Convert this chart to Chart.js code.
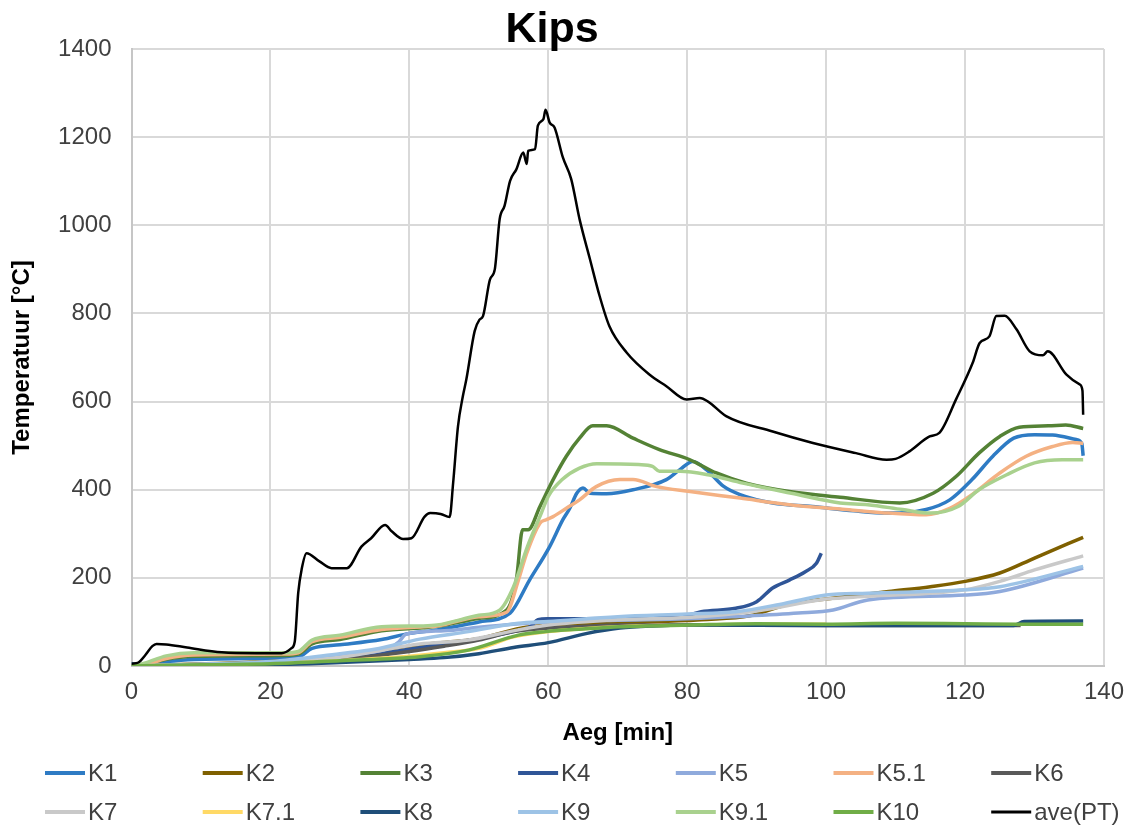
<!DOCTYPE html>
<html>
<head>
<meta charset="utf-8">
<title>Kips</title>
<script src="https://cdn.jsdelivr.net/npm/chart.js@4.4.1/dist/chart.umd.min.js"></script>
<style>
  html, body { margin: 0; padding: 0; background: #fff; }
  #wrap { width: 1141px; height: 829px; position: relative; }
</style>
</head>
<body>
<div id="wrap"><canvas id="kipsChart"></canvas></div>
<script>
// series as [time (min), temperature (°C)] pairs
const K1 = [[0,5],[2,3],[5,10],[9,15],[22,18],[24,20],[26,40],[30,48],[36,60],[40,74],[44,82],[50,100],[54.5,120],[57.3,195],[60.2,271],[62.1,332],[63.1,358],[64.1,392],[65,404],[66,392],[68.4,391],[72.2,400],[77,423],[78.9,445],[80.8,464],[82.8,445],[85.2,408],[87.6,389],[92.3,370],[98,362],[104,352],[108.7,347],[110.6,347],[114.4,355],[117.8,377],[121,423],[124,476],[127,517],[130,525],[132.6,524],[136,514],[136.8,505],[137,477]];
const K2 = [[0,0],[10,5],[20,10],[30,22],[40,45],[46,55],[50,62],[56,86],[60,93],[70,98],[80,103],[82,105],[89,114],[95,142],[100,152],[109,169],[115,180],[120,192],[125,211],[130,245],[137,292]];
const K3 = [[0,0],[2,3],[5,15],[9,22],[22,24],[24,27],[26,50],[30,60],[36,80],[42,87],[44,90],[50,108],[54,127],[55.4,195],[56.3,309],[57.1,309],[58.8,362],[60.7,423],[62.6,476],[64.5,517],[66.4,545],[68.4,545],[72.2,517],[76,491],[80.4,468],[84.2,438],[88.5,415],[94.7,396],[102,383],[110.6,370],[115.4,392],[118.7,430],[122,483],[125,521],[127.8,542],[132,545],[134.5,547],[137,539]];
const K4 = [[0,0],[10,3],[20,6],[30,16],[40,38],[45,50],[50,62],[55,78],[57.5,90],[58.5,105],[60,107],[70,108],[80,115],[82,123],[87,131],[90,146],[92.3,177],[94.7,195],[97,214],[98.6,233],[99.3,256]];
const K5 = [[0,0],[10,3],[20,8],[30,25],[37,40],[38.5,55],[39.5,72],[45,80],[50,88],[55,95],[60,100],[70,104],[80,107],[87,112],[96,120],[101,127],[106,150],[120,161],[125,169],[137,222]];
const K5_1 = [[0,0],[2,3],[5,17],[9,25],[22,27],[24,30],[26,55],[30,65],[36,83],[42,89],[44,91],[50,112],[54,122],[55.7,195],[56.9,256],[58.8,324],[59.7,332],[60.7,339],[62.6,358],[64.5,377],[66.9,407],[70.3,423],[72.2,423],[75.6,407],[80.4,396],[87.6,381],[94.7,366],[102,356],[108,348],[114.4,343],[117.8,358],[121,389],[125,438],[128.8,476],[132.6,498],[135.5,507],[137,505]];
const K6 = [[0,0],[10,2],[20,5],[30,15],[40,33],[45,45],[50,59],[55,78],[60,86],[65,90],[70,93],[80,93],[100,92],[128,92]];
const K7 = [[0,0],[10,4],[20,8],[30,20],[41.5,50],[48.5,59],[55.7,82],[60,93],[70,105],[80,110],[90,125],[100,152],[106,158],[120,173],[125,192],[130,218],[137,250]];
const K7_1 = [[0,0],[10,3],[20,5],[30,12],[40,22],[45,30],[50,40],[55,66],[60,78],[70,89],[80,93],[100,95]];
const K8 = [[0,0],[10,2],[20,3],[30,8],[40,15],[45,19],[50,28],[55,42],[60,53],[65.6,74],[70.3,86],[75,91],[80,93],[100,92],[127,92],[128.5,101],[137,102]];
const K9 = [[0,0],[10,4],[20,10],[30,28],[35,38],[41.5,61],[48.5,78],[55.7,97],[60,101],[70,112],[80,118],[87,123],[94,142],[100,161],[106,165],[120,173],[125,180],[137,226]];
const K9_1 = [[0,0],[2,7],[5,23],[9,30],[22,30],[24,33],[26,59],[30,70],[36,89],[42,91],[44,93],[50,115],[53,127],[55,180],[57,271],[59,347],[60,385],[62,423],[64.5,449],[67,459],[73,457],[75,453],[76,442],[79,442],[83,434],[88,415],[95,392],[102,370],[106,366],[111,355],[115,347],[119,362],[122,400],[126,434],[130,461],[134,468],[137,468]];
const K10 = [[0,0],[10,3],[20,5],[30,12],[41.5,21],[48.5,36],[55.7,70],[59.6,78],[65,84],[70.3,89],[80.4,93],[90,96],[100,95],[110,97],[120,96],[128,95],[137,95]];
const avePT = [[0,5],[1,8],[2,25],[3,45],[3.6,50],[5,49],[8,42],[13,31],[18,29],[21.6,29],[23,40],[23.5,55],[24,166],[24.5,220],[25.2,256],[27,238],[28.8,222],[31,222],[33.1,271],[34.5,290],[36.5,320],[37.5,305],[39.1,288],[40.3,290],[42.2,339],[43,347],[44.5,345],[45.8,338],[46.3,415],[47,544],[47.7,612],[48.2,650],[49.4,760],[50.1,786],[50.6,794],[51.6,877],[52.3,900],[53,1014],[53.7,1044],[54.5,1101],[55.4,1127],[56.4,1165],[56.9,1139],[57.1,1169],[58.1,1173],[58.5,1226],[59.3,1241],[59.6,1262],[60.2,1233],[60.9,1222],[62.1,1154],[63.3,1105],[64.5,1014],[66,923],[67.4,839],[68.8,771],[71.3,711],[74.6,661],[77,635],[79.9,605],[81.8,608],[83,600],[85.6,567],[92.3,532],[98.1,506],[104.3,483],[108.7,468],[110,470],[112,487],[114.9,521],[116.3,529],[118.7,605],[121.1,688],[122.1,733],[123.5,748],[124.5,794],[125.7,795],[127.4,764],[129.3,714],[131.2,705],[131.9,714],[134.6,661],[136.5,639],[136.9,625],[137,570]];

const seriesNames = ['K1', 'K2', 'K3', 'K4', 'K5', 'K5.1', 'K6', 'K7', 'K7.1', 'K8', 'K9', 'K9.1', 'K10', 'ave(PT)'];
const seriesData = [K1, K2, K3, K4, K5, K5_1, K6, K7, K7_1, K8, K9, K9_1, K10, avePT];
const seriesColors = ['#2E7BC4', '#7F6000', '#548235', '#2F5597', '#8FAADC', '#F4B183', '#595959', '#C9C9C9', '#FFD966', '#1F4E79', '#9DC3E6', '#A9D18E', '#70AD47', '#000000'];

const xTicks = [0, 20, 40, 60, 80, 100, 120, 140];
const yTicks = [0, 200, 400, 600, 800, 1000, 1200, 1400];

Chart.defaults.font.family = "'Liberation Sans', Arial, sans-serif";
Chart.defaults.color = '#404040';

// legend laid out in a fixed grid of 7 columns under the x axis title
const gridLegend = {
    id: 'gridLegend',
    afterDraw(chart) {
        const ctx = chart.ctx;
        ctx.save();
        ctx.font = "24px 'Liberation Sans', Arial, sans-serif";
        ctx.textBaseline = 'middle';
        ctx.fillStyle = '#404040';
        chart.data.datasets.forEach(function (ds, i) {
            const col = i % 7;
            const row = Math.floor(i / 7);
            const x0 = 45 + col * 157.7;
            const y0 = 773 + row * 39;
            ctx.strokeStyle = ds.borderColor;
            ctx.lineWidth = ds.label === 'ave(PT)' ? 3 : 4;
            ctx.beginPath();
            ctx.moveTo(x0, y0);
            ctx.lineTo(x0 + 40, y0);
            ctx.stroke();
            ctx.fillText(ds.label, x0 + 43, y0 + 1);
        });
        ctx.restore();
    }
};

const datasets = seriesNames.map(function (name, i) {
    return {
        label: name,
        data: seriesData[i].map(function (p) { return { x: p[0], y: p[1] }; }),
        borderColor: seriesColors[i],
        backgroundColor: seriesColors[i],
        borderWidth: name === 'ave(PT)' ? 2.5 : 3.5,
        pointRadius: 0,
        cubicInterpolationMode: 'monotone',
        fill: false,
        // later series sit on top
        order: seriesNames.length - i
    };
});

const ctx = document.getElementById('kipsChart').getContext('2d');
new Chart(ctx, {
    type: 'line',
    data: { datasets: datasets },
    options: {
        responsive: true,
        maintainAspectRatio: false,
        animation: false,
        layout: { padding: { left: 0, right: 37, top: 0, bottom: 73.6 } },
        plugins: {
            legend: { display: false },
            tooltip: { enabled: false },
            title: {
                display: true,
                text: 'Kips',
                color: '#000000',
                font: { size: 43, weight: 'bold', lineHeight: 0.85 },
                padding: { top: 12, bottom: 0.5 }
            }
        },
        scales: {
            x: {
                type: 'linear',
                min: 0,
                max: 140,
                afterFit: function (scale) { scale.height = 89.4; },
                afterBuildTicks: function (scale) {
                    scale.ticks = xTicks.map(function (v) { return { value: v }; });
                },
                ticks: {
                    font: { size: 24 }, color: '#404040', padding: 12, maxRotation: 0,
                    callback: function (v) { return String(v); }
                },
                grid: { color: '#d9d9d9', lineWidth: 2, drawTicks: false },
                border: { color: '#c6c6c6', width: 2 },
                title: {
                    display: true,
                    text: 'Aeg [min]',
                    color: '#000000',
                    font: { size: 24, weight: 'bold', lineHeight: 1.2 },
                    padding: { top: 0, bottom: 8 }
                }
            },
            y: {
                min: 0,
                max: 1400,
                afterFit: function (scale) { scale.width = 131.5; },
                afterBuildTicks: function (scale) {
                    scale.ticks = yTicks.map(function (v) { return { value: v }; });
                },
                ticks: {
                    font: { size: 24 }, color: '#404040', padding: 20,
                    callback: function (v) { return String(v); }
                },
                grid: { color: '#d9d9d9', lineWidth: 2, drawTicks: false },
                border: { color: '#c6c6c6', width: 2 },
                title: {
                    display: true,
                    text: 'Temperatuur [°C]',
                    color: '#000000',
                    font: { size: 24, weight: 'bold', lineHeight: 1.2 },
                    padding: { top: 8, bottom: 0 }
                }
            }
        }
    },
    plugins: [gridLegend]
});
</script>
</body>
</html>
